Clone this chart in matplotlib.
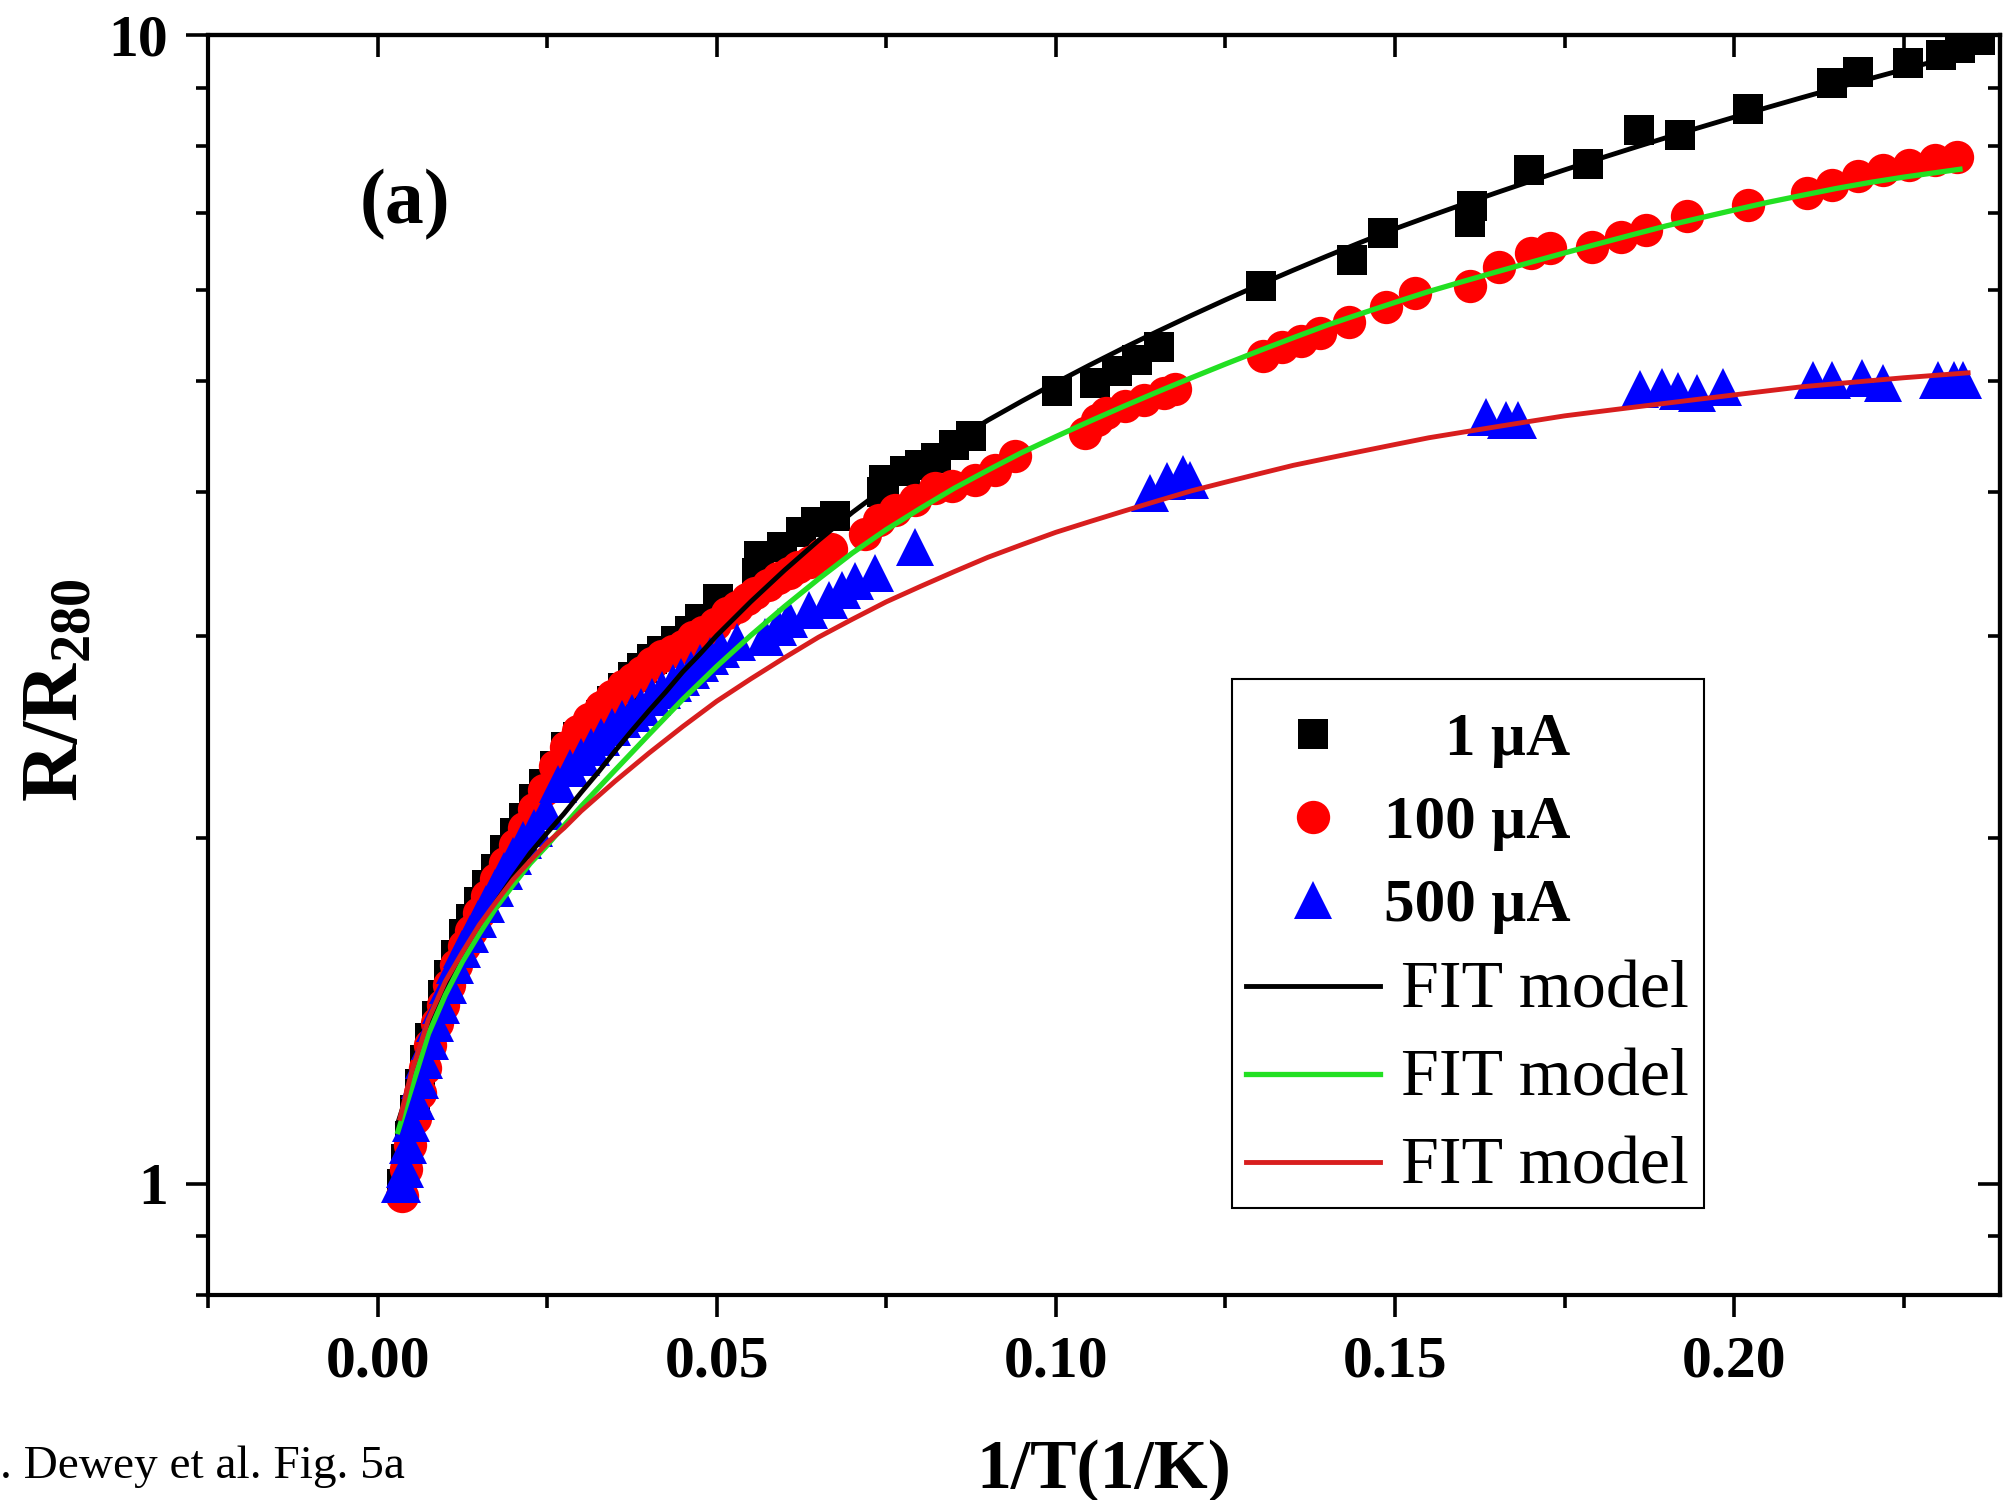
import matplotlib
matplotlib.use("Agg")
import matplotlib.pyplot as plt
from matplotlib.patches import Rectangle
from matplotlib.ticker import FixedLocator, NullFormatter, FixedFormatter

plt.rcParams['font.family'] = ['Liberation Serif', 'DejaVu Serif']
plt.rcParams['font.weight'] = 'bold'
plt.rcParams['mathtext.fontset'] = 'custom'
plt.rcParams['mathtext.rm'] = 'Liberation Serif:bold'
plt.rcParams['mathtext.bf'] = 'Liberation Serif:bold'

# ---------------------------------------------------------------------------
# data: x = 1/T (1/K), y = R/R280
# ---------------------------------------------------------------------------

# 1 uA (black squares)
x_1uA = [0.0036, 0.0042, 0.0048, 0.0055, 0.0062, 0.0070, 0.0078, 0.0087, 0.0096,
         0.0106, 0.0116, 0.0127, 0.0138, 0.0150, 0.0162, 0.0175, 0.0188, 0.0202,
         0.0216, 0.0231, 0.0246, 0.0262, 0.0278, 0.0295, 0.0312, 0.0330, 0.0346,
         0.0362, 0.0376, 0.0390, 0.0404, 0.0420, 0.0440, 0.0460, 0.0476, 0.0502,
         0.0559, 0.0562, 0.0596, 0.0625, 0.0646, 0.0675, 0.0743, 0.0746, 0.0778,
         0.0800, 0.0823, 0.0850, 0.0875, 0.1001, 0.1058, 0.1090, 0.1119, 0.1152,
         0.1303, 0.1436, 0.1483, 0.1611, 0.1613, 0.1698, 0.1785, 0.1860, 0.1920,
         0.2021, 0.2144, 0.2183, 0.2257, 0.2305, 0.2333, 0.2362]
y_1uA = [1.00, 1.05, 1.10, 1.16, 1.22, 1.28, 1.34, 1.40, 1.46,
         1.52, 1.58, 1.65, 1.70, 1.76, 1.82, 1.88, 1.95, 2.02,
         2.08, 2.16, 2.23, 2.31, 2.40, 2.45, 2.49, 2.56, 2.63,
         2.70, 2.76, 2.81, 2.86, 2.91, 2.97, 3.03, 3.10, 3.23,
         3.40, 3.52, 3.58, 3.69, 3.77, 3.81, 4.00, 4.10, 4.17,
         4.22, 4.28, 4.40, 4.48, 4.90, 4.98, 5.10, 5.21, 5.35,
         6.05, 6.37, 6.72, 6.88, 7.10, 7.63, 7.72, 8.27, 8.18,
         8.62, 9.08, 9.29, 9.45, 9.60, 9.75, 9.90]

# 100 uA (red circles)
x_100uA = [0.0036, 0.0042, 0.0048, 0.0055, 0.0062, 0.0070, 0.0078, 0.0087, 0.0096,
           0.0106, 0.0116, 0.0127, 0.0138, 0.0150, 0.0162, 0.0175, 0.0188, 0.0202,
           0.0216, 0.0231, 0.0246, 0.0262, 0.0278, 0.0295, 0.0312, 0.0330, 0.0346,
           0.0362, 0.0376, 0.0390, 0.0405, 0.0420, 0.0435, 0.0450, 0.0465, 0.0480,
           0.0498, 0.0515, 0.0530, 0.0545, 0.0557, 0.0575, 0.0590, 0.0606, 0.0620,
           0.0638, 0.0655, 0.0668, 0.0719, 0.0740, 0.0763, 0.0793, 0.0822, 0.0847,
           0.0881, 0.0911, 0.0940, 0.1043, 0.1060, 0.1074, 0.1102, 0.1130, 0.1159,
           0.1176, 0.1305, 0.1334, 0.1362, 0.1390, 0.1432, 0.1487, 0.1530, 0.1611,
           0.1653, 0.1700, 0.1729, 0.1790, 0.1833, 0.1870, 0.1931, 0.2021, 0.2107,
           0.2144, 0.2183, 0.2220, 0.2258, 0.2296, 0.2329]
y_100uA = [0.975, 1.03, 1.08, 1.14, 1.20, 1.26, 1.32, 1.38, 1.43,
           1.49, 1.55, 1.61, 1.66, 1.72, 1.78, 1.84, 1.90, 1.97,
           2.04, 2.12, 2.20, 2.31, 2.40, 2.48, 2.54, 2.60, 2.66,
           2.71, 2.75, 2.79, 2.84, 2.88, 2.91, 2.94, 2.99, 3.02,
           3.07, 3.14, 3.18, 3.23, 3.27, 3.32, 3.37, 3.40, 3.44,
           3.48, 3.53, 3.57, 3.68, 3.78, 3.86, 3.94, 4.03, 4.05,
           4.10, 4.18, 4.30, 4.50, 4.62, 4.69, 4.75, 4.81, 4.88,
           4.92, 5.25, 5.35, 5.42, 5.50, 5.63, 5.80, 5.96, 6.04,
           6.28, 6.46, 6.52, 6.54, 6.67, 6.77, 6.95, 7.11, 7.28,
           7.40, 7.53, 7.63, 7.70, 7.78, 7.83]

# 500 uA (blue triangles)
x_500uA = [0.0033, 0.0036, 0.0040, 0.0045, 0.0050, 0.0056, 0.0062, 0.0069, 0.0077,
           0.0085, 0.0094, 0.0104, 0.0114, 0.0125, 0.0136, 0.0148, 0.0160, 0.0173,
           0.0186, 0.0200, 0.0215, 0.0230, 0.0249, 0.0266, 0.0283, 0.0300, 0.0315,
           0.0330, 0.0345, 0.0360, 0.0375, 0.0389, 0.0405, 0.0420, 0.0435, 0.0448,
           0.0462, 0.0476, 0.0490, 0.0507, 0.0530, 0.0571, 0.0590, 0.0606, 0.0636,
           0.0665, 0.0684, 0.0704, 0.0734, 0.0793, 0.1139, 0.1164, 0.1187, 0.1198,
           0.1634, 0.1663, 0.1681, 0.1861, 0.1894, 0.1918, 0.1946, 0.1984, 0.2116,
           0.2144, 0.2188, 0.2220, 0.2300, 0.2324, 0.2338]
y_500uA = [1.00, 1.00, 1.03, 1.08, 1.13, 1.18, 1.23, 1.28, 1.33,
           1.38, 1.43, 1.49, 1.55, 1.60, 1.65, 1.70, 1.75, 1.81,
           1.87, 1.93, 1.99, 2.04, 2.11, 2.23, 2.30, 2.35, 2.40,
           2.45, 2.50, 2.54, 2.57, 2.60, 2.65, 2.69, 2.73, 2.76,
           2.80, 2.84, 2.88, 2.92, 2.96, 2.99, 3.05, 3.10, 3.16,
           3.22, 3.29, 3.35, 3.40, 3.58, 3.99, 4.09, 4.15, 4.10,
           4.65, 4.62, 4.62, 4.92, 4.94, 4.90, 4.88, 4.94, 5.01,
           5.01, 5.03, 4.98, 5.01, 5.01, 5.01]

# fit curves
x_fit_1uA = [0.0030, 0.0050, 0.0075, 0.0100, 0.0125, 0.0150, 0.0175, 0.0200, 0.0225,
             0.0250, 0.0275, 0.0300, 0.0325, 0.0350, 0.0375, 0.0400, 0.0425, 0.0450,
             0.0475, 0.0500, 0.0550, 0.0600, 0.0650, 0.0700, 0.0750, 0.0800, 0.0850,
             0.0900, 0.0950, 0.1000, 0.1050, 0.1100, 0.1150, 0.1200, 0.1250, 0.1300,
             0.1350, 0.1400, 0.1450, 0.1500, 0.1550, 0.1600, 0.1650, 0.1700, 0.1750,
             0.1800, 0.1850, 0.1900, 0.1950, 0.2000, 0.2050, 0.2100, 0.2150, 0.2200,
             0.2250, 0.2300, 0.2350]
y_fit_1uA = [1.13, 1.23, 1.36, 1.47, 1.57, 1.66, 1.76, 1.85, 1.94,
             2.02, 2.10, 2.19, 2.28, 2.38, 2.48, 2.58, 2.68, 2.79,
             2.89, 3.00, 3.21, 3.42, 3.63, 3.84, 4.04, 4.24, 4.43,
             4.62, 4.80, 4.98, 5.16, 5.34, 5.52, 5.70, 5.88, 6.06,
             6.24, 6.42, 6.60, 6.78, 6.95, 7.12, 7.29, 7.46, 7.63,
             7.80, 7.97, 8.14, 8.31, 8.48, 8.65, 8.82, 8.99, 9.16,
             9.33, 9.50, 9.67]

x_fit_100uA = [0.0030, 0.0050, 0.0075, 0.0100, 0.0125, 0.0150, 0.0175, 0.0200, 0.0225,
               0.0250, 0.0275, 0.0300, 0.0350, 0.0400, 0.0450, 0.0500, 0.0550, 0.0600,
               0.0650, 0.0700, 0.0750, 0.0800, 0.0850, 0.0900, 0.0950, 0.1000, 0.1050,
               0.1100, 0.1150, 0.1200, 0.1250, 0.1300, 0.1350, 0.1400, 0.1450, 0.1500,
               0.1550, 0.1600, 0.1650, 0.1700, 0.1750, 0.1800, 0.1850, 0.1900, 0.1950,
               0.2000, 0.2050, 0.2100, 0.2150, 0.2200, 0.2250, 0.2333]
y_fit_100uA = [1.11, 1.21, 1.35, 1.46, 1.56, 1.65, 1.74, 1.82, 1.90,
               1.97, 2.05, 2.13, 2.29, 2.46, 2.64, 2.82, 3.00, 3.18,
               3.36, 3.54, 3.71, 3.87, 4.03, 4.18, 4.33, 4.47, 4.61,
               4.75, 4.89, 5.03, 5.17, 5.31, 5.45, 5.59, 5.72, 5.85,
               5.98, 6.10, 6.22, 6.34, 6.46, 6.58, 6.70, 6.82, 6.93,
               7.04, 7.15, 7.25, 7.35, 7.44, 7.52, 7.64]

x_fit_500uA = [0.0033, 0.0050, 0.0075, 0.0100, 0.0125, 0.0150, 0.0175, 0.0200, 0.0225,
               0.0250, 0.0275, 0.0300, 0.0350, 0.0400, 0.0450, 0.0500, 0.0550, 0.0600,
               0.0650, 0.0700, 0.0750, 0.0800, 0.0850, 0.0900, 0.0950, 0.1000, 0.1050,
               0.1100, 0.1150, 0.1200, 0.1250, 0.1300, 0.1350, 0.1400, 0.1450, 0.1500,
               0.1550, 0.1600, 0.1650, 0.1700, 0.1750, 0.1800, 0.1850, 0.1900, 0.1950,
               0.2000, 0.2050, 0.2100, 0.2150, 0.2200, 0.2250, 0.2345]
y_fit_500uA = [1.14, 1.25, 1.39, 1.50, 1.59, 1.68, 1.76, 1.84, 1.91,
               1.98, 2.04, 2.11, 2.24, 2.37, 2.50, 2.63, 2.75, 2.87,
               2.99, 3.10, 3.21, 3.31, 3.41, 3.51, 3.60, 3.69, 3.77,
               3.85, 3.93, 4.01, 4.08, 4.15, 4.22, 4.28, 4.34, 4.40,
               4.46, 4.51, 4.56, 4.61, 4.66, 4.70, 4.74, 4.78, 4.82,
               4.86, 4.90, 4.94, 4.97, 5.00, 5.03, 5.08]

x_major = [0.00, 0.05, 0.10, 0.15, 0.20]
x_minor = [-0.025, 0.025, 0.075, 0.125, 0.175, 0.225]
y_major = [1, 10]
y_minor = [0.8, 0.9, 2, 3, 4, 5, 6, 7, 8, 9]

# ---------------------------------------------------------------------------
# figure
# ---------------------------------------------------------------------------
fig = plt.figure(figsize=(20.04, 15), dpi=100)
ax = fig.add_axes([0.1038, 0.1367, 0.8942, 0.84])
ax.set_yscale('log')
ax.set_xlim(-0.025, 0.2392)
ax.set_ylim(0.8, 10)

h1, = ax.plot(x_1uA, y_1uA, ls='none', marker='s', ms=21, color='black',
              mew=0, zorder=2)
h2, = ax.plot(x_100uA, y_100uA, ls='none', marker='o', ms=24, color='#ff0000',
              mew=0, zorder=3)
h3, = ax.plot(x_500uA, y_500uA, ls='none', marker='^', ms=27, color='#0000ff',
              mew=0, zorder=4)
l1, = ax.plot(x_fit_1uA, y_fit_1uA, color='black', lw=3.5, zorder=5)
l2, = ax.plot(x_fit_100uA, y_fit_100uA, color='#22e022', lw=3.8, zorder=5)
l3, = ax.plot(x_fit_500uA, y_fit_500uA, color='#d81e1e', lw=3.5, zorder=5)

# ticks
ax.xaxis.set_major_locator(FixedLocator(x_major))
ax.xaxis.set_minor_locator(FixedLocator(x_minor))
ax.xaxis.set_major_formatter(FixedFormatter(['%.2f' % v for v in x_major]))
ax.xaxis.set_minor_formatter(NullFormatter())
ax.yaxis.set_major_locator(FixedLocator(y_major))
ax.yaxis.set_minor_locator(FixedLocator(y_minor))
ax.yaxis.set_major_formatter(FixedFormatter([str(v) for v in y_major]))
ax.yaxis.set_minor_formatter(NullFormatter())

ax.tick_params(which='major', direction='out', length=16, width=2.6,
               labelsize=43, pad=13, top=False, right=False)
ax.tick_params(which='minor', direction='out', length=9, width=2.6,
               top=False, right=False)

# inward ticks on the top and right sides
top = ax.secondary_xaxis('top')
top.xaxis.set_major_locator(FixedLocator(x_major))
top.xaxis.set_minor_locator(FixedLocator(x_minor))
top.tick_params(which='major', direction='in', length=16, width=2.6, labeltop=False)
top.tick_params(which='minor', direction='in', length=9, width=2.6)
right = ax.secondary_yaxis('right')
right.yaxis.set_major_locator(FixedLocator(y_major))
right.yaxis.set_minor_locator(FixedLocator(y_minor))
right.tick_params(which='major', direction='in', length=16, width=2.6, labelright=False)
right.tick_params(which='minor', direction='in', length=9, width=2.6)
for sp in list(ax.spines.values()) + [top.spines['top'], right.spines['right']]:
    sp.set_linewidth(3.0)

ax.set_xlabel('1/T(1/K)', fontsize=50, fontweight='bold', labelpad=36)
fig.text(0.029, 0.54, 'R/R$_{\\mathbf{280}}$', rotation=90, fontsize=58,
         ha='center', va='center')

ax.text(0.110, 0.8655, '(a)', transform=ax.transAxes, fontsize=56,
        ha='center', va='center')

fig.text(0.0, 0.0147, '. Dewey et al. Fig. 5a', fontsize=34,
         fontweight='normal', ha='left', va='baseline')

# legend: frame drawn as its own box, entries placed inside it
box = Rectangle((0.5714, 0.069), 0.8348 - 0.5714, 0.4889 - 0.069,
                transform=ax.transAxes, facecolor='white', edgecolor='black',
                lw=1.5, zorder=9)
ax.add_patch(box)
leg = ax.legend([h1, h2, h3, l1, l2, l3],
                ['    1 \u00b5A', '100 \u00b5A', '500 \u00b5A',
                 ' FIT model', ' FIT model', ' FIT model'],
                loc='upper left', bbox_to_anchor=(0.5714, 0.4737),
                borderaxespad=0, frameon=False, numpoints=1,
                handlelength=2.2, handletextpad=0.06, labelspacing=0.44,
                borderpad=0.23, prop={'size': 44})
for t in leg.get_texts()[:3]:
    t.set_fontweight('bold')
    t.set_fontsize(44)
for t in leg.get_texts()[3:]:
    t.set_fontweight('normal')
    t.set_fontsize(49)
leg.set_zorder(10)

fig.savefig('out.png', dpi=100)
